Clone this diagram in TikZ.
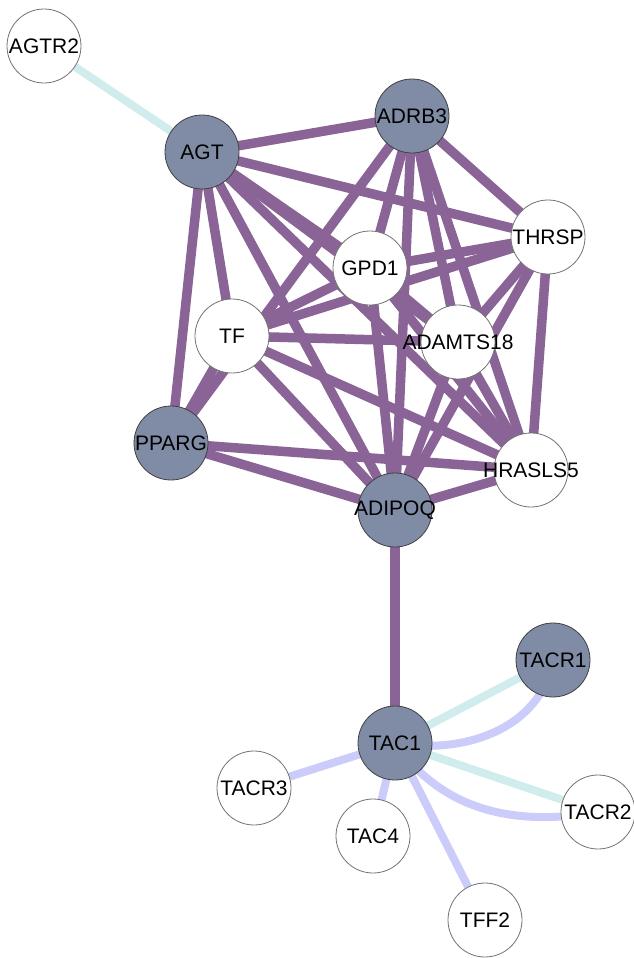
\documentclass[tikz,border=0pt]{standalone}
\usepackage{fontspec}
\setmainfont{Liberation Sans}
\usetikzlibrary{backgrounds}
\definecolor{pur}{RGB}{138,100,150}
\definecolor{gnode}{RGB}{128,140,166}
\definecolor{cyanedge}{RGB}{208,236,236}
\definecolor{lavedge}{RGB}{204,204,250}
\tikzset{
  gene/.style={circle, minimum size=74pt, inner sep=0pt, fill=white, draw=black!55, line width=0.8pt,
    label={[font=\fontsize{21}{21}\selectfont, inner sep=0pt]center:#1}},
  qgene/.style={gene=#1, fill=gnode, draw=black!75},
  pe/.style={pur, line width=9.5pt},
  ce/.style={cyanedge, line width=8pt},
  le/.style={lavedge, line width=8pt},
}
\begin{document}
\begin{tikzpicture}[x=1pt,y=-1pt]
\useasboundingbox (0,0) rectangle (633,958);
\node[gene=AGTR2]     (AGTR2) at (44,46) {};
\node[qgene=AGT]      (AGT) at (202,152) {};
\node[qgene=ADRB3]    (ADRB3) at (412,116) {};
\node[gene=THRSP]     (THRSP) at (548,237) {};
\node[gene=GPD1]      (GPD1) at (370,268) {};
\node[gene=TF]        (TF) at (232,336) {};
\node[gene=ADAMTS18]  (ADAMTS18) at (458,342) {};
\node[qgene=PPARG]    (PPARG) at (171,443) {};
\node[gene=HRASLS5]   (HRASLS5) at (531,470) {};
\node[qgene=ADIPOQ]   (ADIPOQ) at (395,510) {};
\node[qgene=TACR1]    (TACR1) at (553,660) {};
\node[qgene=TAC1]     (TAC1) at (395,743) {};
\node[gene=TACR3]     (TACR3) at (254,788) {};
\node[gene=TAC4]      (TAC4) at (373,836) {};
\node[gene=TACR2]     (TACR2) at (598,812) {};
\node[gene=TFF2]      (TFF2) at (485,920) {};
\begin{scope}[on background layer]
\draw[ce] (AGTR2.center) -- (AGT.center);
\foreach \a/\b in {AGT/ADRB3, AGT/THRSP, AGT/PPARG, AGT/TF, AGT/ADIPOQ, AGT/GPD1, AGT/ADAMTS18, AGT/HRASLS5,
  ADRB3/GPD1, ADRB3/PPARG, ADRB3/ADIPOQ, ADRB3/ADAMTS18, ADRB3/HRASLS5, ADRB3/THRSP,
  THRSP/GPD1, THRSP/TF, THRSP/ADIPOQ, THRSP/ADAMTS18, THRSP/HRASLS5,
  GPD1/TF, GPD1/ADAMTS18, GPD1/HRASLS5, GPD1/ADIPOQ,
  TF/ADAMTS18, TF/HRASLS5, TF/ADIPOQ, TF/PPARG,
  ADAMTS18/ADIPOQ, ADAMTS18/HRASLS5,
  PPARG/HRASLS5, PPARG/ADIPOQ, HRASLS5/ADIPOQ, ADIPOQ/TAC1}
  \draw[pe] (\a.center) -- (\b.center);
\draw[ce] (TAC1.center) -- (TACR1.center);
\draw[ce] (TAC1.center) -- (TACR2.center);
\draw[le] (TAC1.center) -- (TACR3.center);
\draw[le] (TAC1.center) -- (TAC4.center);
\draw[le] (TAC1.center) -- (TFF2.center);
\draw[le] (TAC1.center) to[out=-10, in=-100] (TACR1.center);
\draw[le] (TAC1.center) to[out=-55, in=190] (TACR2.center);
\end{scope}
\end{tikzpicture}
\end{document}
